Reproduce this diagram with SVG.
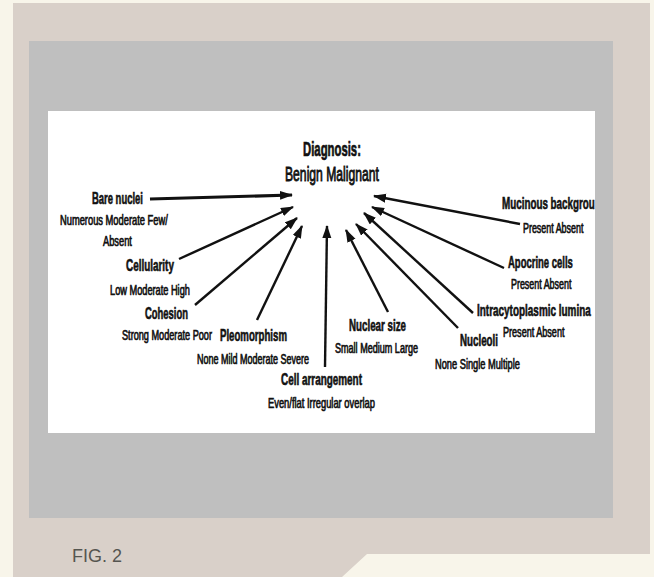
<svg xmlns="http://www.w3.org/2000/svg" width="654" height="577" viewBox="0 0 654 577">
<style>
.h{font-family:"Liberation Sans",Arial,sans-serif;font-weight:bold;font-size:16px;fill:#111;stroke:#111;stroke-width:0.6}
.o{font-family:"Liberation Sans",Arial,sans-serif;font-size:14px;fill:#111;stroke:#111;stroke-width:0.7}
.t{font-family:"Liberation Sans",Arial,sans-serif;font-size:20px;fill:#111;stroke:#111}
.c{stroke:#111;stroke-width:2.4;fill:none;marker-end:url(#ah)}
</style>
<defs>
<marker id="ah" markerUnits="userSpaceOnUse" markerWidth="15" markerHeight="10" refX="12" refY="4.5" orient="auto">
<path d="M0,0 L13,4.5 L0,9 Z" fill="#111"/>
</marker>
</defs>
<rect x="0" y="0" width="654" height="577" fill="#f8f5ea"/>
<polygon points="13,3 650,3 650,554 367,554 342,577 13,577" fill="#d9d0c9"/>
<rect x="29" y="41" width="584" height="477" fill="#bfbfbf"/>
<rect x="48" y="111" width="547" height="322" fill="#ffffff"/>
<g id="connectors">
<line class="c" x1="150" y1="199" x2="292" y2="195" style="stroke-width:3.2"/>
<line class="c" x1="179" y1="259" x2="293" y2="207"/>
<line class="c" x1="195" y1="305" x2="297" y2="218"/>
<line class="c" x1="257" y1="320" x2="302" y2="226"/>
<line class="c" x1="325" y1="367" x2="327" y2="226"/>
<line class="c" x1="388" y1="312" x2="346" y2="230"/>
<line class="c" x1="458" y1="328" x2="356" y2="224"/>
<line class="c" x1="473" y1="313" x2="364" y2="213"/>
<line class="c" x1="504" y1="268" x2="372" y2="207"/>
<line class="c" x1="520" y1="224" x2="374" y2="196"/>
</g>
<g id="diagnosis">
<text class="t" transform="translate(303,156) scale(0.567,1)" font-weight="bold" stroke-width="0.7">Diagnosis:</text>
<text class="t" transform="translate(285,181) scale(0.608,1)" stroke-width="0.9">Benign Malignant</text>
</g>
<g id="bare-nuclei">
<text class="h" transform="translate(92,204) scale(0.591,1)">Bare nuclei</text>
<text class="o" transform="translate(60,225) scale(0.667,1)">Numerous Moderate Few/</text>
<text class="o" transform="translate(103,246) scale(0.665,1)">Absent</text>
</g>
<g id="cellularity">
<text class="h" transform="translate(126,271) scale(0.620,1)">Cellularity</text>
<text class="o" transform="translate(110,295) scale(0.659,1)">Low Moderate High</text>
</g>
<g id="cohesion">
<text class="h" transform="translate(145,319) scale(0.590,1)">Cohesion</text>
<text class="o" transform="translate(122,340) scale(0.654,1)">Strong Moderate Poor</text>
</g>
<g id="pleomorphism">
<text class="h" transform="translate(220,341) scale(0.603,1)">Pleomorphism</text>
<text class="o" transform="translate(197,364) scale(0.643,1)">None Mild Moderate Severe</text>
</g>
<g id="cell-arrangement">
<text class="h" transform="translate(281,385) scale(0.620,1)">Cell arrangement</text>
<text class="o" transform="translate(268,408) scale(0.668,1)">Even/flat Irregular overlap</text>
</g>
<g id="nuclear-size">
<text class="h" transform="translate(349,331) scale(0.610,1)">Nuclear size</text>
<text class="o" transform="translate(335,353) scale(0.647,1)">Small Medium Large</text>
</g>
<g id="nucleoli">
<text class="h" transform="translate(460,346) scale(0.611,1)">Nucleoli</text>
<text class="o" transform="translate(435,369) scale(0.662,1)">None Single Multiple</text>
</g>
<g id="intracytoplasmic-lumina">
<text class="h" transform="translate(477,316) scale(0.622,1)">Intracytoplasmic lumina</text>
<text class="o" transform="translate(503,337) scale(0.648,1)">Present Absent</text>
</g>
<g id="apocrine-cells">
<text class="h" transform="translate(508,268) scale(0.594,1)">Apocrine cells</text>
<text class="o" transform="translate(511,289) scale(0.637,1)">Present Absent</text>
</g>
<g id="mucinous-background">
<text class="h" transform="translate(502,209) scale(0.615,1)">Mucinous backgrou</text>
<text class="o" transform="translate(523,233) scale(0.637,1)">Present Absent</text>
</g>
<g id="caption">
<text x="72" y="562" font-family="Liberation Sans, Arial, sans-serif" font-size="18" fill="#555550">FIG. 2</text>
</g>
</svg>
